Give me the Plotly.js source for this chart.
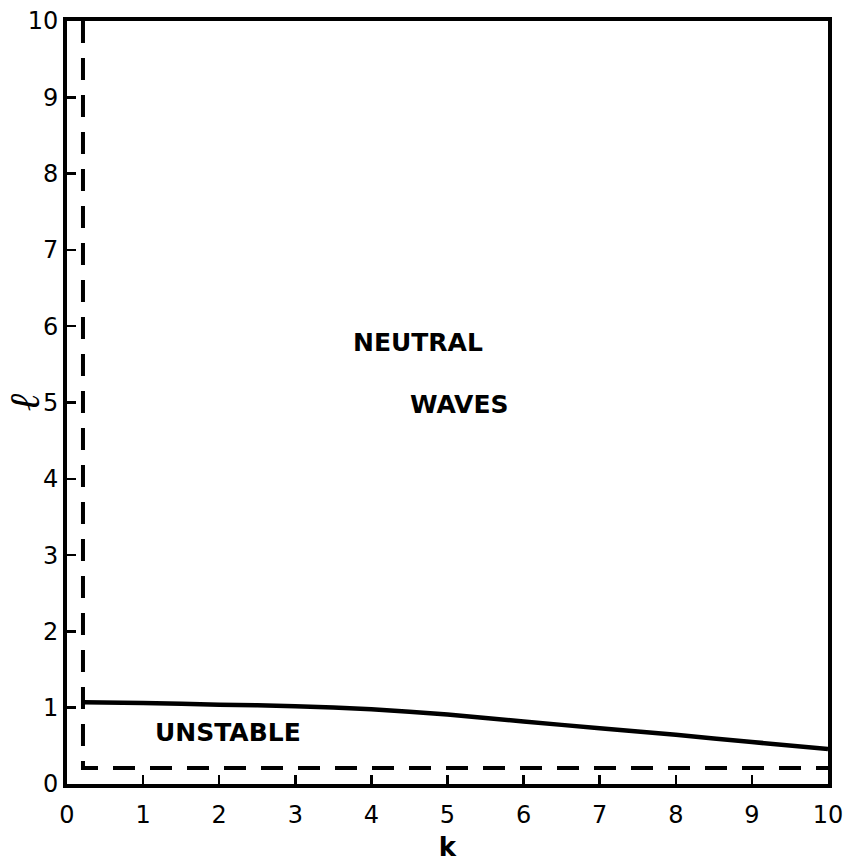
<!DOCTYPE html>
<html>
<head>
<meta charset="utf-8">
<script src="https://cdn.plot.ly/plotly-3.0.1.min.js"></script>
<style>
  html, body { margin: 0; padding: 0; background: #fff; }
  #chart { width: 851px; height: 862px; }
</style>
</head>
<body>
<div id="chart"></div>
<script>
// Stability diagram in the (k, l) wavenumber plane
const tickVals = [0, 1, 2, 3, 4, 5, 6, 7, 8, 9, 10];
const tickText = ['0', '1', '2', '3', '4', '5', '6', '7', '8', '9', '10'];

// Dashed boundary: vertical at small k, horizontal at small l
const kDashed = [0.21, 0.21, 10];
const lDashed = [10, 0.21, 0.21];

// Solid neutral curve separating the unstable band
const kNeutral = [0.21, 1, 2, 3, 4, 5, 6, 7, 8, 9, 10];
const lNeutral = [1.07, 1.06, 1.04, 1.02, 0.98, 0.91, 0.82, 0.73, 0.645, 0.55, 0.46];

// Region labels
const regionText = ['NEUTRAL', 'WAVES', 'UNSTABLE'];
const regionK = [4.61, 5.16, 2.12];
const regionL = [5.78, 4.98, 0.67];

const labelFont = { family: 'DejaVu Sans', size: 25, color: '#000', weight: 'bold' };

const traces = [
  {
    x: kDashed, y: lDashed, mode: 'lines', type: 'scatter',
    line: { color: '#000', width: 4, dash: '22px,15px' },
    hoverinfo: 'skip'
  },
  {
    x: kNeutral, y: lNeutral, mode: 'lines', type: 'scatter',
    line: { color: '#000', width: 4.5, shape: 'spline', smoothing: 0.6 },
    hoverinfo: 'skip'
  }
];

const annotations = regionText.map((t, i) => ({
  x: regionK[i], y: regionL[i], xref: 'x', yref: 'y',
  text: t, showarrow: false, font: labelFont
}));

const axisCommon = {
  range: [0, 10],
  tickvals: tickVals,
  ticktext: tickText,
  ticks: 'inside',
  ticklen: 9,
  tickwidth: 2.5,
  tickcolor: '#000',
  showline: true,
  linewidth: 4,
  linecolor: '#000',
  mirror: true,
  showgrid: false,
  zeroline: false,
  tickfont: { family: 'DejaVu Sans', size: 24, color: '#000' }
};

const layout = {
  width: 851,
  height: 862,
  margin: { l: 67, r: 23, t: 21, b: 78 },
  paper_bgcolor: '#fff',
  plot_bgcolor: '#fff',
  showlegend: false,
  xaxis: Object.assign({}, axisCommon, {
    ticklabelstandoff: 6,
    title: { text: 'k', font: { family: 'DejaVu Sans', size: 26, color: '#000', weight: 'bold' }, standoff: 14 }
  }),
  yaxis: Object.assign({}, axisCommon, {
    ticklabelstandoff: 0,
    title: { text: 'ℓ', font: { family: 'DejaVu Serif', size: 42, color: '#000', style: 'italic' }, standoff: 12 }
  }),
  annotations: annotations
};

Plotly.newPlot('chart', traces, layout, { displayModeBar: false, staticPlot: true });
</script>
</body>
</html>
